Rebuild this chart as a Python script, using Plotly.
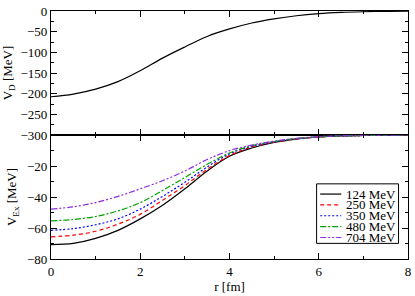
import plotly.graph_objects as go
from plotly.subplots import make_subplots

r = [0, 0.5, 1, 1.5, 2, 2.5, 3, 3.5, 4, 4.5, 5, 5.5, 6, 6.5, 7, 7.5, 8]

v_direct = [-207.5, -201, -189, -171, -144.5, -114, -87, -61.6, -43.4, -29, -19, -11.5,
            -6.5, -3.5, -1.8, -0.8, -0.3]

energies = ["124 MeV", "250 MeV", "350 MeV", "480 MeV", "704 MeV"]
v_ex_124 = [-70.7, -69.9, -66.7, -61.5, -54.1, -45.3, -34.7, -23.2, -13.7, -8.4, -4.8, -2.6, -1.3, -0.6, -0.3, -0.1, 0]
v_ex_250 = [-65.7, -64.6, -62.1, -57.5, -51.2, -42.1, -32.6, -22.1, -13.3, -7.8, -4.6, -2.5, -1.3, -0.6, -0.3, -0.1, 0]
v_ex_350 = [-61.5, -60.4, -57.9, -54.1, -47.8, -39.6, -30.5, -20.6, -12.2, -7.4, -4.4, -2.4, -1.2, -0.6, -0.3, -0.1, 0]
v_ex_480 = [-55.4, -54.5, -52.6, -49.0, -43.6, -35.8, -27.4, -18.9, -11.6, -6.9, -4.2, -2.3, -1.2, -0.6, -0.3, -0.1, 0]
v_ex_704 = [-47.8, -46.3, -43.6, -39.6, -34.7, -29.5, -23.2, -15.8, -10.1, -6.5, -4.0, -2.2, -1.1, -0.5, -0.2, -0.1, 0]
v_ex = [v_ex_124, v_ex_250, v_ex_350, v_ex_480, v_ex_704]

colors = ["#000000", "#ff0000", "#0000ff", "#00a000", "#8a2be2"]
dashes = ["solid", "4px,3px", "2px,2px", "6px,2px,2px,2px", "6px,2px,2px,2px,2px,2px"]

FONT = "Liberation Serif"
FS = 13

fig = make_subplots(rows=2, cols=1, shared_xaxes=True, vertical_spacing=0)

fig.add_trace(go.Scatter(x=r, y=v_direct, mode="lines", line=dict(color="black", width=1.2, shape="spline"),
                         showlegend=False), row=1, col=1)

for name, ys, c, d in zip(energies, v_ex, colors, dashes):
    fig.add_trace(go.Scatter(x=r, y=ys, mode="lines", name=name, showlegend=False,
                             line=dict(color=c, width=1.2, dash=d, shape="spline")), row=2, col=1)

axis_common = dict(showline=True, linecolor="black", linewidth=1.2, mirror="ticks",
                   ticks="inside", ticklen=6, tickwidth=1, tickcolor="black",
                   showgrid=False, zeroline=False, ticklabeloverflow="allow",
                   tickfont=dict(family=FONT, size=FS, color="black"))

fig.update_xaxes(**axis_common, range=[0, 8], dtick=2, tick0=0,
                 minor=dict(ticks="inside", ticklen=3, dtick=1, tickcolor="black"))
fig.update_xaxes(showticklabels=False, row=1, col=1)
fig.update_xaxes(title=dict(text="r [fm]", font=dict(family=FONT, size=FS, color="black"), standoff=4),
                 row=2, col=1)

fig.update_yaxes(**axis_common)
fig.update_yaxes(range=[-300, 0], dtick=50, tick0=0,
                 minor=dict(ticks="inside", ticklen=3, dtick=25, tickcolor="black"),
                 title=dict(text="V<sub>D</sub> [MeV]", font=dict(family=FONT, size=FS, color="black"),
                            standoff=7),
                 row=1, col=1)
fig.update_yaxes(range=[-80, 0], tickvals=[-80, -60, -40, -20],
                 minor=dict(ticks="inside", ticklen=3, tickvals=[-70, -50, -30, -10], tickcolor="black"),
                 title=dict(text="V<sub>Ex</sub> [MeV]", font=dict(family=FONT, size=FS, color="black"),
                            standoff=7),
                 row=2, col=1)

# manual legend (paper coordinates of the plotting area)
fig.add_shape(type="rect", xref="paper", yref="paper", x0=0.744, x1=0.9735, y0=0.063, y1=0.303,
              line=dict(color="black", width=1), fillcolor="white", layer="above")
row_y = [0.2618, 0.2181, 0.1744, 0.1307, 0.0866]
for name, c, d, yy in zip(energies, colors, dashes, row_y):
    fig.add_shape(type="line", xref="paper", yref="paper", x0=0.754, x1=0.813, y0=yy, y1=yy,
                  line=dict(color=c, width=1.2, dash=d), layer="above")
    fig.add_annotation(xref="paper", yref="paper", x=0.822, y=yy, text=name, showarrow=False,
                       xanchor="left", yanchor="middle",
                       font=dict(family=FONT, size=FS, color="black"))

fig.update_layout(
    width=415, height=296,
    margin=dict(l=50, r=4, t=5, b=37),
    paper_bgcolor="white", plot_bgcolor="white",
    font=dict(family=FONT, size=FS, color="black"),
    showlegend=False,
)

fig.write_html("out.html", config={"displayModeBar": False},
               post_script="document.body.style.margin='0';document.body.style.padding='0';")
